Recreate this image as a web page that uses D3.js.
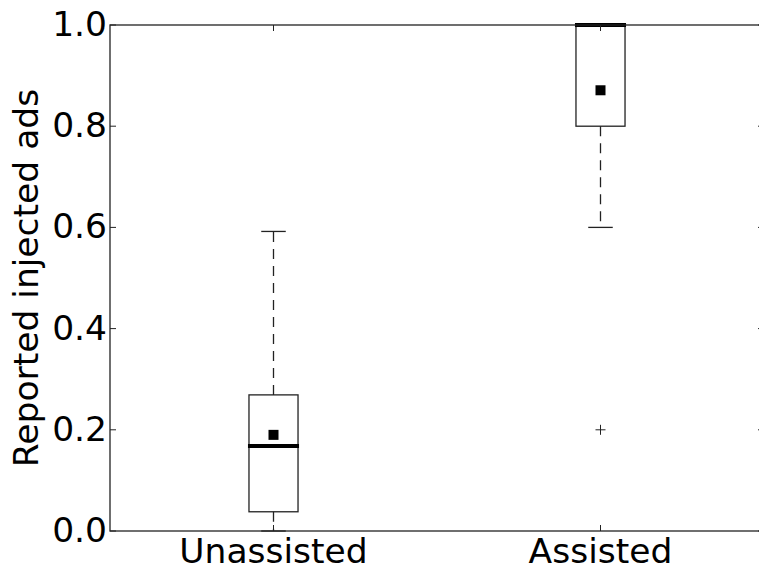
<!DOCTYPE html>
<html>
<head>
<meta charset="utf-8">
<script src="https://cdn.jsdelivr.net/npm/d3@7"></script>
<style>
  body { margin: 0; background: #fff; }
  svg { display: block; font-family: "DejaVu Sans", sans-serif; }
</style>
</head>
<body>
<div id="chart"></div>
<script>
// box statistics
const categories = ['Unassisted', 'Assisted'];
const whiskerLow = [0.0, 0.6];
const q1 = [0.038, 0.8];
const median = [0.168, 1.0];
const q3 = [0.269, 1.0];
const whiskerHigh = [0.592, 1.0];
const means = [0.19, 0.871];
const outliers = [[], [0.2]];
const yTicks = [0.0, 0.2, 0.4, 0.6, 0.8, 1.0];

const width = 759, height = 567;
const margin = { left: 110, top: 25, right: -5, bottom: 36 };

const svg = d3.select('#chart').append('svg')
    .attr('width', width)
    .attr('height', height);

const x = d3.scaleLinear()
    .domain([0.5, 2.5])
    .range([margin.left, width - margin.right]);

const y = d3.scaleLinear()
    .domain([0, 1])
    .range([height - margin.bottom, margin.top]);

const boxes = categories.map((c, i) => ({
    name: c, pos: i + 1,
    lo: whiskerLow[i], q1: q1[i], med: median[i], q3: q3[i], hi: whiskerHigh[i],
    mean: means[i], out: outliers[i]
}));

const boxW = 0.15;
const ink = '#222';
const g = svg.append('g');

// whiskers (dashed)
boxes.forEach(d => {
    g.append('line')
        .attr('x1', x(d.pos)).attr('x2', x(d.pos))
        .attr('y1', y(d.q3)).attr('y2', y(d.hi))
        .attr('stroke', ink).attr('stroke-width', 1.3)
        .attr('stroke-dasharray', '10,7');
    g.append('line')
        .attr('x1', x(d.pos)).attr('x2', x(d.pos))
        .attr('y1', y(d.q1)).attr('y2', y(d.lo))
        .attr('stroke', ink).attr('stroke-width', 1.3)
        .attr('stroke-dasharray', '10,7');
    // caps
    [d.lo, d.hi].forEach(v => {
        g.append('line')
            .attr('x1', x(d.pos - boxW / 4)).attr('x2', x(d.pos + boxW / 4))
            .attr('y1', y(v)).attr('y2', y(v))
            .attr('stroke', ink).attr('stroke-width', 1.3);
    });
});

// boxes
g.selectAll('.box')
    .data(boxes)
    .enter().append('rect')
    .attr('class', 'box')
    .attr('x', d => x(d.pos - boxW / 2))
    .attr('width', d => x(d.pos + boxW / 2) - x(d.pos - boxW / 2))
    .attr('y', d => y(d.q3))
    .attr('height', d => y(d.q1) - y(d.q3))
    .attr('fill', 'none')
    .attr('stroke', ink)
    .attr('stroke-width', 1.3);

// medians
g.selectAll('.median')
    .data(boxes)
    .enter().append('line')
    .attr('class', 'median')
    .attr('x1', d => x(d.pos - boxW / 2) - 1)
    .attr('x2', d => x(d.pos + boxW / 2) + 1)
    .attr('y1', d => y(d.med))
    .attr('y2', d => y(d.med))
    .attr('stroke', '#000')
    .attr('stroke-width', 4);

// means
g.selectAll('.mean')
    .data(boxes)
    .enter().append('rect')
    .attr('class', 'mean')
    .attr('x', d => x(d.pos) - 5)
    .attr('y', d => y(d.mean) - 5)
    .attr('width', 10)
    .attr('height', 10)
    .attr('fill', '#000');

// outliers (+)
boxes.forEach(d => {
    d.out.forEach(v => {
        const cx = x(d.pos), cy = y(v);
        g.append('path')
            .attr('d', `M${cx - 5},${cy}H${cx + 5}M${cx},${cy - 5}V${cy + 5}`)
            .attr('stroke', ink).attr('stroke-width', 1);
    });
});

// frame
const x0 = x(0.5), x1 = x(2.5), y0 = y(0), y1 = y(1);
svg.append('rect')
    .attr('x', x0).attr('y', y1)
    .attr('width', x1 - x0).attr('height', y0 - y1)
    .attr('fill', 'none')
    .attr('stroke', ink)
    .attr('stroke-width', 1.3);

// ticks (inside), left/right and bottom/top
const tickLen = 6;
yTicks.forEach(t => {
    svg.append('line').attr('x1', x0).attr('x2', x0 + tickLen)
        .attr('y1', y(t)).attr('y2', y(t)).attr('stroke', ink);
    svg.append('line').attr('x1', x1).attr('x2', x1 - tickLen)
        .attr('y1', y(t)).attr('y2', y(t)).attr('stroke', ink);
    svg.append('text')
        .attr('x', x0 - 3)
        .attr('y', y(t) + 11)
        .attr('text-anchor', 'end')
        .style('font-size', '34.5px')
        .attr('fill', '#000')
        .text(d3.format('.1f')(t));
});

boxes.forEach(d => {
    svg.append('line').attr('x1', x(d.pos)).attr('x2', x(d.pos))
        .attr('y1', y0).attr('y2', y0 - tickLen).attr('stroke', ink);
    svg.append('line').attr('x1', x(d.pos)).attr('x2', x(d.pos))
        .attr('y1', y1).attr('y2', y1 + tickLen).attr('stroke', ink);
    svg.append('text')
        .attr('x', x(d.pos))
        .attr('y', y0 + 32)
        .attr('text-anchor', 'middle')
        .style('font-size', '34.5px')
        .attr('fill', '#000')
        .text(d.name);
});

// y label
svg.append('text')
    .attr('transform', `translate(38,${(y0 + y1) / 2}) rotate(-90)`)
    .attr('text-anchor', 'middle')
    .style('font-size', '34.5px')
    .attr('fill', '#000')
    .text('Reported injected ads');
</script>
</body>
</html>
